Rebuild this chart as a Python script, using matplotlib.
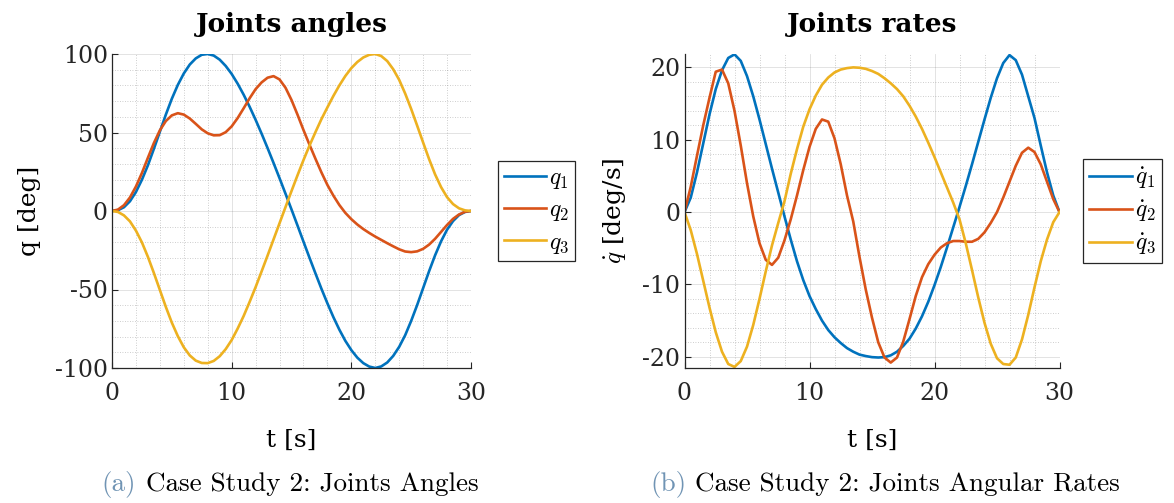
import numpy as np
import matplotlib.pyplot as plt
from matplotlib.ticker import MultipleLocator, FixedLocator, FixedFormatter

plt.rcParams['mathtext.fontset'] = 'cm'
plt.rcParams['font.family'] = 'DejaVu Serif'

# time samples [s]
t = np.linspace(0, 30, 61)

# joint angles [deg]
q1 = [0, 0.5, 2.4, 6.2, 12.1, 19.9, 29.1, 39.6, 50.5, 61.4, 71.5, 80.3, 87.6, 93.3, 97.2, 99.5, 100,
      99.0, 96.4, 92.4, 87.3, 81.1, 74.1, 66.4, 58.1, 49.3, 40.1, 30.6, 20.9, 11.0, 1.0,
      -9.2, -19.5, -29.7, -39.7, -49.5, -58.8, -67.6, -75.6, -82.7, -88.6, -93.4, -96.9, -99.1, -100,
      -99.0, -96.5, -92.3, -86.5, -79.1, -70.0, -59.9, -49.1, -38.3, -28.2, -19.3, -11.9, -6.4, -2.6, -0.6, 0]
q2 = [0, 0.9, 3.7, 8.6, 15.6, 24.2, 33.9, 43.3, 51.4, 57.3, 60.9, 62.3, 61.4, 58.9, 55.5, 52.0, 49.5,
      48.2, 48.3, 50.2, 53.9, 59.2, 65.4, 71.8, 77.6, 81.9, 84.9, 85.9, 83.8, 78.5, 70.7,
      61.4, 51.6, 42.3, 33.3, 24.6, 16.6, 9.8, 3.8, -1.2, -5.2, -8.6, -11.5, -14.0, -16.3,
      -18.4, -20.5, -22.5, -24.4, -25.8, -26.2, -25.7, -24.1, -21.4, -17.7, -13.3, -8.9, -5.0, -2.2, -0.5, 0]
q3 = [0, -0.6, -2.8, -6.6, -12.5, -20.0, -29.2, -39.5, -50.3, -61.1, -71.1, -79.7, -86.8, -92.0, -95.3, -96.8, -96.9,
      -95.5, -92.5, -88.0, -82.2, -74.9, -66.9, -57.9, -48.5, -38.5, -28.4, -18.1, -7.8, 2.5, 12.7,
      22.7, 32.4, 41.6, 50.2, 58.5, 66.0, 73.3, 80.0, 86.0, 91.0, 94.9, 97.8, 99.5, 100,
      98.7, 95.5, 90.3, 83.5, 74.8, 65.0, 54.4, 43.6, 33.0, 23.3, 15.2, 8.8, 4.4, 1.7, 0.4, 0]

# joint rates [deg/s]
dq1 = [0, 2, 5.5, 9.5, 13.5, 17, 19.6, 21.3, 21.8, 20.9, 18.8, 16, 12.8, 9.4, 6, 2.7, -0.6,
       -3.8, -6.8, -9.4, -11.6, -13.4, -15, -16.3, -17.3, -18.1, -18.8, -19.3, -19.7, -19.9, -20.05,
       -20.1, -20.05, -19.8, -19.3, -18.5, -17.5, -16.1, -14.4, -12.4, -10.1, -7.6, -4.9, -2.1, 0.7,
       3.6, 6.6, 9.7, 12.8, 15.8, 18.5, 20.6, 21.7, 21, 19, 16, 13, 9.2, 5.5, 2.3, 0]
dq2 = [0, 3.5, 7.8, 12, 15.8, 19.4, 19.7, 17.8, 14.0, 9.2, 4, -0.6, -4.3, -6.6, -7.3, -6.3, -3.9,
       -1.0, 2.3, 5.8, 9.0, 11.5, 12.8, 12.5, 10.2, 6.6, 2.3, -1.3, -6.2, -10.7, -14.6,
       -18.0, -20.1, -20.8, -20.1, -17.9, -14.8, -11.6, -9.0, -7.2, -5.9, -4.9, -4.3, -4.0, -4.0,
       -4.1, -4.1, -3.7, -2.8, -1.5, 0, 2.0, 4.2, 6.4, 8.2, 8.9, 8.3, 6.6, 4.2, 1.8, 0]
dq3 = [0, -2.5, -5.8, -9.5, -13.2, -16.6, -19.3, -21, -21.4, -20.6, -18.6, -15.6, -12, -8.2, -4.6, -1.5, 1.5,
       5.3, 8.7, 11.8, 14.2, 16.1, 17.6, 18.6, 19.3, 19.7, 19.9, 20, 19.95, 19.8, 19.5,
       19.1, 18.5, 17.8, 17, 16, 14.7, 13.2, 11.5, 9.6, 7.6, 5.5, 3.4, 1.3, -1,
       -4.3, -8, -11.8, -15.3, -18.2, -20.2, -21.0, -21.1, -20.1, -17.6, -14.2, -10.4, -6.8, -3.8, -1.4, 0]

x_ticks = [0, 10, 20, 30]
ang_ticks = [-100, -50, 0, 50, 100]
rate_ticks = [-20, -10, 0, 10, 20]
ang_labels = [r'$q_1$', r'$q_2$', r'$q_3$']
rate_labels = [r'$\dot{q}_1$', r'$\dot{q}_2$', r'$\dot{q}_3$']
colors = ['#0072BD', '#D95319', '#EDB120']
dark = '#262626'

W, H = 1174, 503
fig = plt.figure(figsize=(W / 100, H / 100), dpi=100)
ax1 = fig.add_axes([112 / W, (H - 368) / H, 359 / W, 314 / H])
ax2 = fig.add_axes([684.5 / W, (H - 368) / H, 375 / W, 314 / H])


def style(ax, yticks, ymin_step):
    ax.spines[['top', 'right']].set_visible(False)
    for s in ('left', 'bottom'):
        ax.spines[s].set_color(dark)
        ax.spines[s].set_linewidth(0.9)
    ax.set_xlim(0, 30)
    ax.xaxis.set_major_locator(FixedLocator(x_ticks))
    ax.xaxis.set_minor_locator(MultipleLocator(2))
    ax.yaxis.set_major_locator(FixedLocator(yticks))
    ax.yaxis.set_major_formatter(FixedFormatter([str(v) for v in yticks]))
    ax.yaxis.set_minor_locator(MultipleLocator(ymin_step))
    ax.tick_params(which='major', direction='in', length=4, width=0.8,
                   colors=dark, labelsize=17)
    ax.tick_params(axis='x', pad=10)
    ax.tick_params(axis='y', pad=3)
    ax.tick_params(which='minor', length=0)
    ax.grid(which='major', color=dark, alpha=0.15, lw=0.6)
    ax.grid(which='minor', color=dark, alpha=0.3, lw=0.6, ls=(0, (1, 2)))
    ax.set_axisbelow(True)


def legend(ax, xa):
    leg = ax.legend(loc='center left', bbox_to_anchor=(xa, 0.5), fontsize=17,
                    frameon=True, fancybox=False, edgecolor=dark, framealpha=1,
                    handlelength=1.8, handletextpad=0.12, borderpad=0.25,
                    labelspacing=0.3, borderaxespad=0)
    leg.get_frame().set_linewidth(0.9)


# angles
for y, c, lab in zip([q1, q2, q3], colors, ang_labels):
    ax1.plot(t, y, color=c, lw=1.9, label=lab, solid_joinstyle='round')
style(ax1, ang_ticks, 10)
ax1.set_ylim(-100, 100)
ax1.set_title('Joints angles', fontweight='bold', fontsize=19, pad=16)
ax1.set_xlabel('t [s]', fontsize=18, labelpad=17)
ax1.set_ylabel('q [deg]', fontsize=18, labelpad=10)
legend(ax1, 1.075)

# rates
for y, c, lab in zip([dq1, dq2, dq3], colors, rate_labels):
    ax2.plot(t, y, color=c, lw=1.9, label=lab, solid_joinstyle='round')
style(ax2, rate_ticks, 2)
ax2.set_ylim(-21.55, 21.85)
ax2.set_title('Joints rates', fontweight='bold', fontsize=19, pad=16)
ax2.set_xlabel('t [s]', fontsize=18, labelpad=17)
ax2.set_ylabel(r'$\dot{q}$ [deg/s]', fontsize=18, labelpad=10)
legend(ax2, 1.0635)

# sub-captions
cap_y = 1 - 484 / H
tag_color = '#7094b4'
fig.text(101 / W, cap_y, '(a)', color=tag_color, fontsize=19.5, family='cmr10', va='center')
fig.text(146 / W, cap_y, 'Case Study 2: Joints Angles', fontsize=19.5, family='cmr10', va='center')
fig.text(650 / W, cap_y, '(b)', color=tag_color, fontsize=19.5, family='cmr10', va='center')
fig.text(695 / W, cap_y, 'Case Study 2: Joints Angular Rates', fontsize=19.5, family='cmr10', va='center')

fig.savefig('out.png', dpi=100)
